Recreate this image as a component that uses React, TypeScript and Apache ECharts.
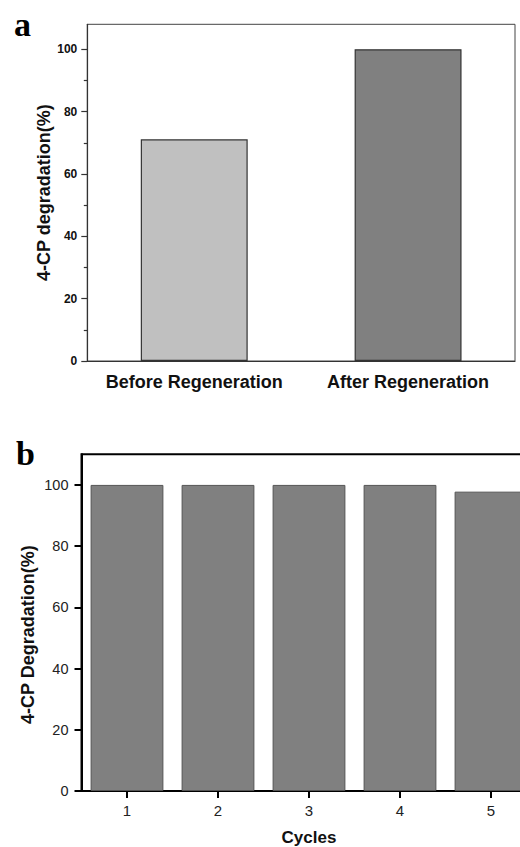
import React, { useEffect, useRef } from "react";
import * as echarts from "echarts";

const panelACategories = ["Before Regeneration", "After Regeneration"];
const panelAValues = [71.1, 100];
const panelAColors = ["#c0c0c0", "#808080"];
const panelBCycles = ["1", "2", "3", "4", "5"];
const panelBValues = [100, 100, 100, 100, 97.8];
const yMajorTicks = [0, 20, 40, 60, 80, 100];
const yMinorTicks = [10, 30, 50, 70, 90];

const SANS = '"Liberation Sans", Arial, sans-serif';
const SERIF = '"Liberation Serif", "Times New Roman", serif';

export default function App() {
  const ref = useRef<HTMLDivElement>(null);
  useEffect(() => {
    if (!ref.current) return;
    const chart = echarts.init(ref.current, null, { renderer: "svg" });
    chart.setOption({
      animation: false,
      backgroundColor: "#ffffff",
      textStyle: { fontFamily: SANS },
      grid: [
        { left: 87.3, top: 24.3, width: 427.7, height: 336.7, show: true, borderColor: "#444", borderWidth: 1, backgroundColor: "transparent", outerBoundsMode: "none", containLabel: false },
        { left: 81.5, top: 454.3, width: 455, height: 336.7, show: true, borderColor: "#000", borderWidth: 2, backgroundColor: "transparent", outerBoundsMode: "none", containLabel: false },
      ],
      xAxis: [
        {
          type: "category",
          gridIndex: 0,
          data: panelACategories,
          axisLine: { lineStyle: { color: "#333", width: 1.2 } },
          axisTick: { show: false },
          axisLabel: { interval: 0, color: "#111", fontWeight: "bold", fontSize: 18, margin: 12, fontFamily: SANS },
          splitLine: { show: false },
        },
        {
          type: "category",
          gridIndex: 1,
          data: panelBCycles,
          name: "Cycles",
          nameLocation: "middle",
          nameGap: 38,
          nameMoveOverlap: false,
          nameTextStyle: { color: "#111", fontWeight: "bold", fontSize: 17, fontFamily: SANS },
          axisLine: { lineStyle: { color: "#000", width: 2 } },
          axisTick: { show: true, alignWithLabel: true, length: 7, lineStyle: { color: "#000", width: 2 } },
          axisLabel: { interval: 0, color: "#222", fontSize: 15, margin: 12, fontFamily: SANS },
          splitLine: { show: false },
        },
      ],
      yAxis: [
        {
          type: "value",
          gridIndex: 0,
          position: "left",
          min: 0,
          max: 108,
          interval: 20,
          name: "4-CP degradation(%)",
          nameLocation: "middle",
          nameGap: 34,
          nameMoveOverlap: false,
          nameTextStyle: { color: "#111", fontWeight: "bold", fontSize: 18, fontFamily: SANS },
          axisLine: { show: true, lineStyle: { color: "#333", width: 1.2 } },
          axisTick: { show: true, customValues: yMajorTicks, length: 6, lineStyle: { color: "#333", width: 1.2 } },
          axisLabel: { customValues: yMajorTicks, color: "#111", fontWeight: "bold", fontSize: 12, margin: 10, fontFamily: SANS },
          splitLine: { show: false },
        },
        {
          type: "value",
          gridIndex: 0,
          position: "left",
          offset: 0,
          min: 0,
          max: 108,
          interval: 10,
          axisLine: { show: false },
          axisTick: { show: true, customValues: yMinorTicks, length: 3.5, lineStyle: { color: "#333", width: 1.2 } },
          axisLabel: { show: false },
          splitLine: { show: false },
        },
        {
          type: "value",
          gridIndex: 1,
          position: "left",
          min: 0,
          max: 110,
          interval: 20,
          name: "4-CP Degradation(%)",
          nameLocation: "middle",
          nameGap: 45,
          nameMoveOverlap: false,
          nameTextStyle: { color: "#111", fontWeight: "bold", fontSize: 18, fontFamily: SANS, padding: [0, 24, 0, 0] },
          axisLine: { show: true, lineStyle: { color: "#000", width: 2 } },
          axisTick: { show: true, customValues: yMajorTicks, length: 7, lineStyle: { color: "#000", width: 2 } },
          axisLabel: { customValues: yMajorTicks, color: "#222", fontSize: 14.5, margin: 13, fontFamily: SANS },
          splitLine: { show: false },
        },
      ],
      series: [
        {
          type: "bar",
          xAxisIndex: 0,
          yAxisIndex: 0,
          barWidth: "50%",
          data: panelAValues.map((v, i) => ({ value: v, itemStyle: { color: panelAColors[i] } })),
          itemStyle: { borderColor: "#333", borderWidth: 1.2 },
        },
        {
          type: "bar",
          xAxisIndex: 1,
          yAxisIndex: 2,
          barWidth: "80%",
          data: panelBValues,
          itemStyle: { color: "#808080", borderColor: "#555", borderWidth: 1 },
        },
      ],
      graphic: [
        { type: "text", x: 14, y: 24, style: { text: "a", font: `bold 34px ${SERIF}`, fill: "#000", verticalAlign: "middle" } },
        { type: "text", x: 16, y: 453, style: { text: "b", font: `bold 34px ${SERIF}`, fill: "#000", verticalAlign: "middle" } },
      ],
    });
    return () => chart.dispose();
  }, []);
  return <div ref={ref} style={{ position: "absolute", left: 0, top: 0, width: 520, height: 847 }} />;
}
